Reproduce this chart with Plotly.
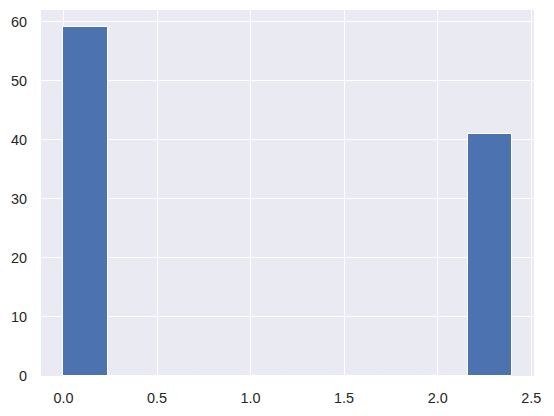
import plotly.graph_objects as go

bin_edges = [0.0, 0.24, 0.48, 0.72, 0.96, 1.2, 1.44, 1.68, 1.92, 2.16, 2.4]
counts = [59, 0, 0, 0, 0, 0, 0, 0, 0, 41]
x_ticks = [0.0, 0.5, 1.0, 1.5, 2.0, 2.5]
x_tick_labels = ["0.0", "0.5", "1.0", "1.5", "2.0", "2.5"]
y_ticks = [0, 10, 20, 30, 40, 50, 60]

centers = [(a + b) / 2 for a, b in zip(bin_edges[:-1], bin_edges[1:])]
widths = [b - a for a, b in zip(bin_edges[:-1], bin_edges[1:])]

fig = go.Figure(go.Bar(
    x=centers, y=counts, width=widths,
    marker=dict(color="#4C72B0", line=dict(color="white", width=1)),
))

font = dict(family="Liberation Sans, Arial, sans-serif", size=14.4, color="#262626")
fig.update_layout(
    width=554, height=416,
    margin=dict(l=41, r=20, t=10, b=38),
    paper_bgcolor="white", plot_bgcolor="#EAEAF2",
    showlegend=False, font=font, bargap=0,
    xaxis=dict(range=[-0.12, 2.515], tickvals=x_ticks, ticktext=x_tick_labels,
               showgrid=True, gridcolor="white", gridwidth=1.3, zeroline=False,
               showline=False, ticks="outside", ticklen=9, tickcolor="rgba(0,0,0,0)"),
    yaxis=dict(range=[0, 61.95], tickvals=y_ticks,
               showgrid=True, gridcolor="white", gridwidth=1.3, zeroline=False,
               showline=False, ticks="outside", ticklen=10, tickcolor="rgba(0,0,0,0)"),
)
fig.write_html("out.html")
